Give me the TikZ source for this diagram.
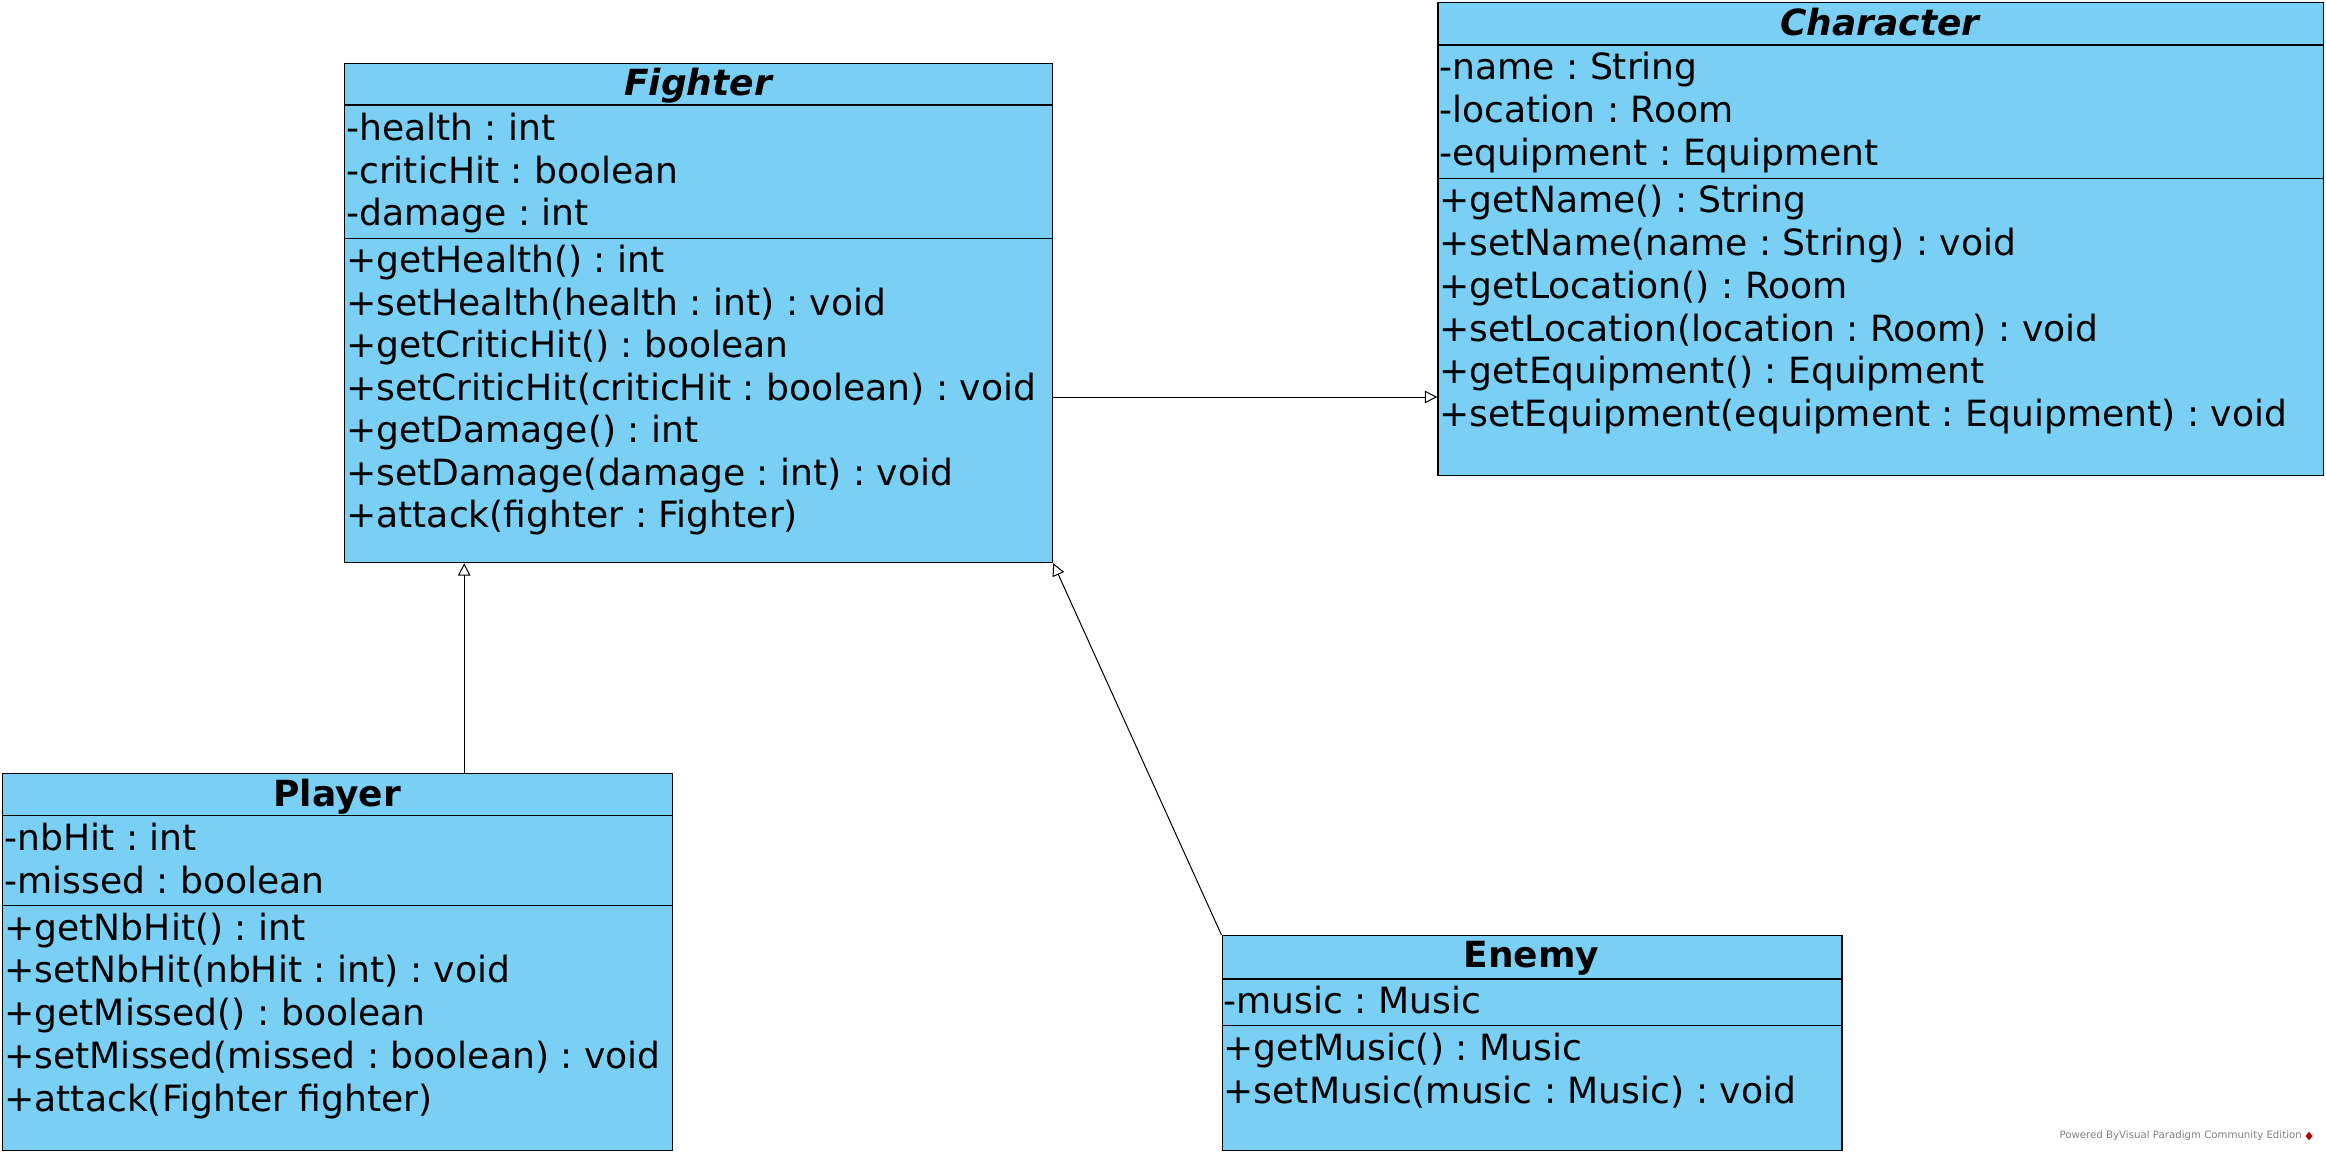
\documentclass[tikz,border=0pt]{standalone}
\usepackage{fontspec}
\setmainfont{DejaVu Sans}
\usetikzlibrary{arrows.meta}
\frenchspacing

\definecolor{classblue}{RGB}{122,207,245}

\begin{document}
\begin{tikzpicture}[x=1pt, y=-1pt,
    classbox/.style={draw, fill=classblue, line width=1.2pt, inner sep=0pt, anchor=north west},
    classname/.style={font=\fontsize{36}{42.5}\selectfont\bfseries, anchor=base, inner sep=0pt},
    member/.style={font=\fontsize{36.1}{42.5}\selectfont, anchor=base west, inner sep=0pt},
    inherit/.style={-{Triangle[open, length=12.5pt, width=12.5pt]}, line width=1pt}]
    \useasboundingbox (0,0) rectangle (2326,1153);

    % Fighter (abstract)
    \node[classbox, minimum width=708pt, minimum height=499.3pt] (fighter) at (344,62.7) {};
    \draw[line width=1.2pt] (fighter.north west) ++(0,42.3) -- ++(708,0);
    \draw[line width=1.2pt] (fighter.north west) ++(0,175.6) -- ++(708,0);
    \node[classname] (fighter-name) at (698,95.5) {\itshape Fighter};
    \foreach \txt [count=\i from 0] in {-health : int, -criticHit : boolean, -damage : int}
        \node[member] (fighter-a\i) at (346,{140.7+42.5*\i}) {\txt};
    \foreach \txt [count=\i from 0] in {+getHealth() : int, +setHealth(health : int) : void,
        +getCriticHit() : boolean, +setCriticHit(criticHit : boolean) : void,
        +getDamage() : int, +setDamage(damage : int) : void, +attack(fighter : Fighter)}
        \node[member] (fighter-o\i) at (346,{272.7+42.5*\i}) {\txt};

    % Character (abstract)
    \node[classbox, minimum width=885.2pt, minimum height=472.7pt] (character) at (1437.3,2.3) {};
    \draw[line width=1.2pt] (character.north west) ++(0,42.7) -- ++(885.2,0);
    \draw[line width=1.2pt] (character.north west) ++(0,176) -- ++(885.2,0);
    \node[classname] (character-name) at (1879.9,35.5) {\itshape Character};
    \foreach \txt [count=\i from 0] in {-name : String, -location : Room, -equipment : Equipment}
        \node[member] (character-a\i) at (1439.3,{80+42.5*\i}) {\txt};
    \foreach \txt [count=\i from 0] in {+getName() : String, +setName(name : String) : void,
        +getLocation() : Room, +setLocation(location : Room) : void,
        +getEquipment() : Equipment, +setEquipment(equipment : Equipment) : void}
        \node[member] (character-o\i) at (1439.3,{212.7+42.8*\i}) {\txt};

    % Player
    \node[classbox, minimum width=669.8pt, minimum height=377.3pt] (player) at (2.2,772.7) {};
    \draw[line width=1.2pt] (player.north west) ++(0,42.6) -- ++(669.8,0);
    \draw[line width=1.2pt] (player.north west) ++(0,133) -- ++(669.8,0);
    \node[classname] (player-name) at (337.1,806) {Player};
    \foreach \txt [count=\i from 0] in {-nbHit : int, -missed : boolean}
        \node[member] (player-a\i) at (4.2,{850.7+42.6*\i}) {\txt};
    \foreach \txt [count=\i from 0] in {+getNbHit() : int, +setNbHit(nbHit : int) : void,
        +getMissed() : boolean, +setMissed(missed : boolean) : void, +attack(Fighter fighter)}
        \node[member] (player-o\i) at (4.2,{940+42.8*\i}) {\txt};

    % Enemy
    \node[classbox, minimum width=619.8pt, minimum height=215pt] (enemy) at (1221.5,935) {};
    \draw[line width=1.2pt] (enemy.north west) ++(0,44) -- ++(619.8,0);
    \draw[line width=1.2pt] (enemy.north west) ++(0,90.7) -- ++(619.8,0);
    \node[classname] (enemy-name) at (1531.4,967) {Enemy};
    \node[member] (enemy-a0) at (1223.5,1013.3) {-music : Music};
    \foreach \txt [count=\i from 0] in {+getMusic() : Music, +setMusic(music : Music) : void}
        \node[member] (enemy-o\i) at (1223.5,{1060+43.3*\i}) {\txt};

    % generalizations
    \draw[inherit] ([xshift=462pt]player.north west) -- ([xshift=462pt]player.north west |- fighter.south);
    \draw[inherit] (enemy.north west) -- (fighter.south east);
    \draw[inherit] ([yshift=-334.3pt]fighter.north east) -- ([yshift=-334.3pt]fighter.north east -| character.west);

    % watermark
    \node[font=\fontsize{10.2}{12}\selectfont, text=black!50, anchor=east, inner sep=0pt] (vp) at (2302,1136) {Powered ByVisual Paradigm Community Edition};
    \fill[red!75!black] (2309,1131.7) -- (2312.5,1136) -- (2309,1140.3) -- (2305.5,1136) -- cycle;
\end{tikzpicture}
\end{document}
